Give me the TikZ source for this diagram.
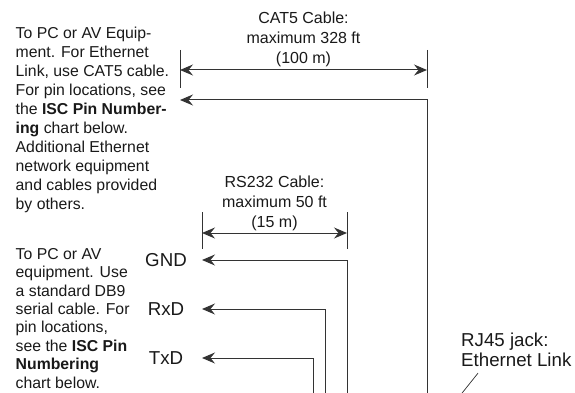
\documentclass[tikz,border=0pt]{standalone}
\usepackage{fontspec}
\setmainfont{Liberation Sans}
\usetikzlibrary{arrows.meta,positioning}

\begin{document}
\begin{tikzpicture}[x=1pt,y=-1pt,>={Stealth[length=13pt,width=11pt,inset=4.5pt]},node distance=49pt]
  \tikzstyle{wire}=[line width=1pt,draw=black!80]
  \tikzstyle{note}=[inner sep=0pt,anchor=north west,align=left,text=black!90,font=\fontsize{15.8}{19}\selectfont]
  \tikzstyle{dimlabel}=[inner sep=0pt,anchor=north,align=center,text=black!90,font=\fontsize{16}{20}\selectfont]
  \tikzstyle{pin}=[inner sep=0pt,text=black!90,font=\fontsize{18.7}{20}\selectfont]

  \useasboundingbox (0,0) rectangle (575,393);

  % left notes
  \node[note] (ethnote) at (15.5,26.5) {To PC or AV Equip-\\ment. For Ethernet\\Link, use CAT5 cable.\\For pin locations, see\\the \textbf{ISC Pin Number-}\\\textbf{ing} chart below.\\Additional Ethernet\\network equipment\\and cables provided\\by others.};
  \node[note,font=\fontsize{15.8}{18.4}\selectfont] (rsnote) at (15.5,248) {To PC or AV\\equipment. Use\\a standard DB9\\serial cable. For\\pin locations,\\see the \textbf{ISC Pin}\\\textbf{Numbering}\\chart below.};

  % DB9 pins
  \node[pin] (gnd) at (166,260) {GND};
  \node[pin] (rxd) [below of=gnd] {RxD};
  \node[pin] (txd) [below of=rxd] {TxD};

  % CAT5 run
  \coordinate (cat5L) at (180,70);
  \coordinate (cat5R) at (427,70);
  \draw[wire] (cat5L) +(0,-20) -- +(0,18);
  \draw[wire] (cat5R) +(0,-20) -- +(0,18);
  \draw[wire,<->] (cat5L) -- (cat5R);
  \node[dimlabel] (cat5text) at (303.5,11.5) {CAT5 Cable:\\maximum 328 ft\\(100 m)};
  \coordinate (ethTip) at (180,100);
  \draw[wire,<-] (ethTip) -- (ethTip -| cat5R) -- +(0,300);

  % RS232 run
  \coordinate (rsL) at (202,233);
  \coordinate (rsR) at (347,233);
  \draw[wire] (rsL) +(0,-21) -- +(0,16);
  \draw[wire] (rsR) +(0,-21) -- +(0,16);
  \draw[wire,<->] (rsL) -- (rsR);
  \node[dimlabel] (rstext) at (274.5,175.5) {RS232 Cable:\\maximum 50 ft\\(15 m)};
  \draw[wire,<-] (gnd -| rsL) -- (gnd -| rsR) -- +(0,140);
  \draw[wire,<-] (rxd -| rsL) -- ++(123,0) -- +(0,100);
  \draw[wire,<-] (txd -| rsL) -- ++(111,0) -- +(0,50);

  % jack callout
  \node[pin,anchor=north west,align=left] (rj45) at (461,333) {RJ45 jack:\\Ethernet Link};
  \coordinate (jack) at (460.5,395);
  \draw[line width=0.7pt,draw=black!80] (jack) -- ([xshift=17pt,yshift=-6pt]rj45.south west);
\end{tikzpicture}
\end{document}
